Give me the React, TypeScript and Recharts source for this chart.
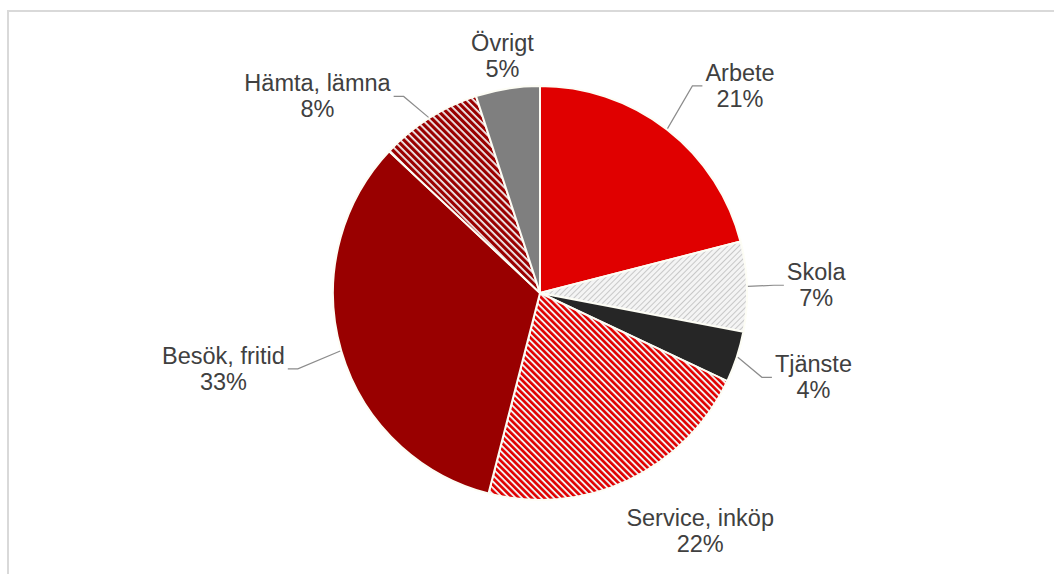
import { Cell, Pie, PieChart } from "recharts";

// Trip purposes, share of trips (%), clockwise from 12 o'clock
const purposes = [
  "Arbete",
  "Skola",
  "Tjänste",
  "Service, inköp",
  "Besök, fritid",
  "Hämta, lämna",
  "Övrigt",
];
const shares = [21, 7, 4, 22, 33, 8, 5];

const fills = [
  "#e00000",
  "url(#patSkola)",
  "#262626",
  "url(#patService)",
  "#990000",
  "url(#patHamta)",
  "#7f7f7f",
];

const data = purposes.map((name, i) => ({ name, value: shares[i] }));

const RAD = Math.PI / 180;
const TEXT = "#404040";
const FONT = "'Liberation Sans', Arial, sans-serif";
const FONT_SIZE = 23.5;

// small label nudges (Excel places some labels off the radial line)
const labelNudge: Record<string, [number, number]> = {
  Arbete: [14, -12],
  Tjänste: [0, 8],
  "Service, inköp": [58, 21],
  "Besök, fritid": [-18, 7],
  "Hämta, lämna": [-17, 12],
};

let ctx: CanvasRenderingContext2D | null = null;
function textWidth(s: string) {
  if (!ctx) ctx = document.createElement("canvas").getContext("2d");
  if (!ctx) return s.length * FONT_SIZE * 0.5;
  ctx.font = `${FONT_SIZE}px ${FONT}`;
  return ctx.measureText(s).width;
}

function renderLabel(props: any) {
  const { cx, cy, midAngle, outerRadius, name, value } = props;
  const c = Math.cos(-midAngle * RAD);
  const s = Math.sin(-midAngle * RAD);
  const side = Math.abs(c) > 0.5;
  const dir = c > 0 ? 1 : -1;
  const r = side ? outerRadius + 40 : outerRadius + 33;
  const [nx, ny] = labelNudge[name] ?? [0, 0];
  const ax = cx + r * c + nx;
  const ay = cy + r * s + ny;
  const pct = `${value}%`;
  const w = Math.max(textWidth(name), textWidth(pct));
  const tx = side ? ax + (dir * w) / 2 : ax;

  let line = null;
  if (side) {
    const x0 = cx + (outerRadius + 1) * c;
    const y0 = cy + (outerRadius + 1) * s;
    const xe = ax - dir * 3;
    const xm = xe - dir * 10;
    line = (
      <polyline
        points={`${x0},${y0} ${xm},${ay} ${xe},${ay}`}
        fill="none"
        stroke="#8c8c8c"
        strokeWidth={1.2}
      />
    );
  }

  return (
    <g>
      {line}
      <text
        x={tx}
        y={ay}
        textAnchor="middle"
        fill={TEXT}
        fontFamily={FONT}
        fontSize={FONT_SIZE}
      >
        <tspan x={tx} y={ay - 13} dominantBaseline="central">
          {name}
        </tspan>
        <tspan x={tx} y={ay + 13} dominantBaseline="central">
          {pct}
        </tspan>
      </text>
    </g>
  );
}

export default function App() {
  return (
    <div
      style={{
        position: "absolute",
        left: 0,
        top: 0,
        width: 1054,
        height: 574,
        overflow: "hidden",
        background: "#ffffff",
      }}
    >
      <svg width={0} height={0} style={{ position: "absolute" }}>
        <defs>
          <pattern
            id="patSkola"
            width={4}
            height={4}
            patternUnits="userSpaceOnUse"
            patternTransform="rotate(45)"
          >
            <rect width={4} height={4} fill="#f4f4f4" />
            <rect width={1} height={4} fill="#c8c8c8" />
          </pattern>
          <pattern
            id="patService"
            width={4.5}
            height={4.5}
            patternUnits="userSpaceOnUse"
            patternTransform="rotate(-45)"
          >
            <rect width={4.5} height={4.5} fill="#f2f2f2" />
            <rect width={2.6} height={4.5} fill="#e00000" />
          </pattern>
          <pattern
            id="patHamta"
            width={5}
            height={5}
            patternUnits="userSpaceOnUse"
            patternTransform="rotate(-45)"
          >
            <rect width={5} height={5} fill="#f2f2f2" />
            <rect width={3.2} height={5} fill="#990000" />
          </pattern>
        </defs>
      </svg>

      <div
        style={{
          position: "absolute",
          left: 7,
          top: 10,
          width: 1070,
          height: 600,
          border: "2px solid #d9d9d9",
        }}
      />

      <div style={{ position: "absolute", left: 0, top: 0 }}>
        <PieChart
          width={1054}
          height={574}
          margin={{ top: 0, right: 0, bottom: 0, left: 0 }}
        >
          <Pie
            data={data}
            dataKey="value"
            nameKey="name"
            cx={540}
            cy={293}
            outerRadius={207}
            startAngle={90}
            endAngle={-270}
            stroke="#fdfdf5"
            strokeWidth={2}
            label={renderLabel}
            labelLine={false}
            isAnimationActive={false}
          >
            {data.map((d, i) => (
              <Cell key={d.name} fill={fills[i]} />
            ))}
          </Pie>
        </PieChart>
      </div>
    </div>
  );
}
